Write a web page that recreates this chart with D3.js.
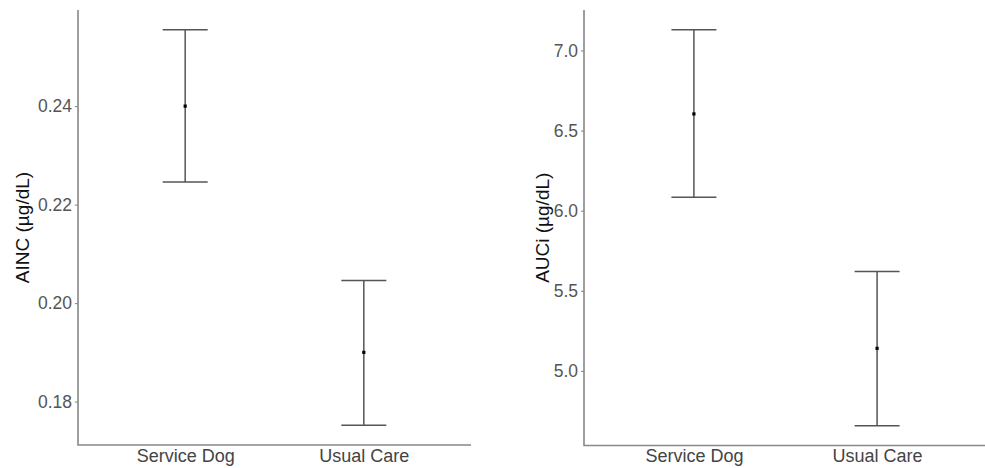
<!DOCTYPE html>
<html>
<head>
<meta charset="utf-8">
<script src="https://cdn.jsdelivr.net/npm/d3@7"></script>
<style>
  body { margin: 0; background: #fff; }
  svg { display: block; font-family: "Liberation Sans", Arial, sans-serif; }
</style>
</head>
<body>
<svg width="985" height="468"></svg>
<script>
// groups on the x axis
var groups = ["Service Dog", "Usual Care"];

// left panel: AINC
var aincMean = [0.240, 0.190];
var aincLow = [0.2246, 0.1752];
var aincHigh = [0.2555, 0.2046];
var aincTicks = [0.18, 0.20, 0.22, 0.24];

// right panel: AUCi
var auciMean = [6.604, 5.141];
var auciLow = [6.084, 4.658];
var auciHigh = [7.129, 5.620];
var auciTicks = [5.0, 5.5, 6.0, 6.5, 7.0];

var svg = d3.select("svg");

function drawPanel(opts) {
    var rows = groups.map(function (g, i) {
        return { group: g, mean: opts.mean[i], low: opts.low[i], high: opts.high[i] };
    });

    // ggplot-style 5% expansion around the data
    var lo = d3.min(opts.low), hi = d3.max(opts.high);
    var pad = (hi - lo) * 0.05;

    var x = d3.scalePoint()
        .domain(groups)
        .range([opts.left, opts.right])
        .padding(0.6);

    var y = d3.scaleLinear()
        .domain([lo - pad, hi + pad])
        .range([opts.bottom, opts.top]);

    var g = svg.append("g");

    // y axis
    var yAxis = g.append("g")
        .attr("transform", "translate(" + opts.left + ",0)")
        .call(d3.axisLeft(y).tickValues(opts.ticks).tickFormat(d3.format(opts.fmt)).tickSize(3).tickPadding(3).tickSizeOuter(0));
    yAxis.select(".domain").remove();
    yAxis.selectAll(".tick line").attr("stroke", "#888").attr("stroke-width", 1.1);
    yAxis.selectAll(".tick text").attr("fill", "#555").attr("font-size", 17.5).style("font-family", "inherit");

    // x axis
    var xAxis = g.append("g")
        .attr("transform", "translate(0," + opts.bottom + ")")
        .call(d3.axisBottom(x).tickSize(0).tickPadding(4));
    xAxis.select(".domain").remove();
    xAxis.selectAll(".tick text").attr("fill", "#444").attr("font-size", 18).style("font-family", "inherit");

    // axis lines
    g.append("path")
        .attr("d", "M" + opts.left + "," + opts.top + "V" + opts.bottom + "H" + opts.right)
        .attr("fill", "none")
        .attr("stroke", "#888")
        .attr("stroke-width", 1.6);

    // y title
    g.append("text")
        .attr("transform", "translate(" + opts.titleX + "," + ((opts.top + opts.bottom) / 2) + ") rotate(-90)")
        .attr("text-anchor", "middle")
        .attr("dy", "0.35em")
        .attr("fill", "#111")
        .attr("font-size", 19)
        .text(opts.title);

    var bars = g.append("g").selectAll("g")
        .data(rows)
        .enter()
        .append("g");

    bars.append("line")
        .attr("x1", function (d) { return x(d.group); })
        .attr("x2", function (d) { return x(d.group); })
        .attr("y1", function (d) { return y(d.low); })
        .attr("y2", function (d) { return y(d.high); })
        .attr("stroke", "#555")
        .attr("stroke-width", 1.5);

    bars.selectAll(".cap")
        .data(function (d) { return [{ g: d.group, v: d.low }, { g: d.group, v: d.high }]; })
        .enter()
        .append("line")
        .attr("class", "cap")
        .attr("x1", function (d) { return x(d.g) - 22.5; })
        .attr("x2", function (d) { return x(d.g) + 22.5; })
        .attr("y1", function (d) { return y(d.v); })
        .attr("y2", function (d) { return y(d.v); })
        .attr("stroke", "#555")
        .attr("stroke-width", 1.6);

    bars.append("rect")
        .attr("x", function (d) { return x(d.group) - 1.6; })
        .attr("y", function (d) { return y(d.mean) - 1.6; })
        .attr("width", 3.2)
        .attr("height", 3.2)
        .attr("fill", "#000");
}

drawPanel({
    mean: aincMean, low: aincLow, high: aincHigh, ticks: aincTicks, fmt: ".2f",
    title: "AINC (µg/dL)",
    left: 78, right: 471, top: 10, bottom: 445, titleX: 22
});

drawPanel({
    mean: auciMean, low: auciLow, high: auciHigh, ticks: auciTicks, fmt: ".1f",
    title: "AUCi (µg/dL)",
    left: 584, right: 987, top: 10, bottom: 445.5, titleX: 542
});
</script>
</body>
</html>
